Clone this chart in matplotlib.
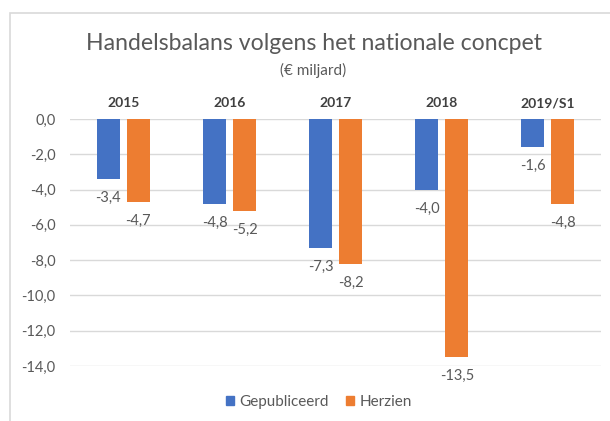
import matplotlib
matplotlib.use('Agg')
import matplotlib.pyplot as plt
import numpy as np
from matplotlib.patches import Rectangle, Patch

plt.rcParams['font.family'] = ['Lato', 'DejaVu Sans']

categories = ['2015', '2016', '2017', '2018', '2019/S1']
gepubliceerd = [-3.4, -4.8, -7.3, -4.0, -1.6]
herzien = [-4.7, -5.2, -8.2, -13.5, -4.8]
yticks = [0, -2, -4, -6, -8, -10, -12, -14]

BLUE = '#4472C4'
ORANGE = '#ED7D31'
GRID = '#D9D9D9'
TXT = '#595959'

W, H = 610, 421
fig = plt.figure(figsize=(W / 100, H / 100), dpi=100)
fig.patch.set_facecolor('white')

# chart border (runs off right/bottom edge like the screenshot)
fig.patches.append(Rectangle((10 / W, -0.05), 1.0, 1 - 13 / H + 0.05,
                             transform=fig.transFigure, fill=False,
                             edgecolor=GRID, linewidth=1.2))

ax = fig.add_axes([70.3 / W, (H - 366) / H, (601 - 70.3) / W, (366 - 119) / H])
ax.set_xlim(-0.5, len(categories) - 0.5)
ax.set_ylim(-14, 0)

x = np.arange(len(categories))
bw = 0.217
off = 0.1415
b1 = ax.bar(x - off, gepubliceerd, bw, color=BLUE, zorder=3)
b2 = ax.bar(x + off, herzien, bw, color=ORANGE, zorder=3)

# value labels just below each bar end
for bars, vals in ((b1, gepubliceerd), (b2, herzien)):
    for rect, v in zip(bars, vals):
        ax.annotate(f'{v:.1f}'.replace('.', ','),
                    (rect.get_x() + rect.get_width() / 2, v),
                    xytext=(0, -19), textcoords='offset pixels',
                    ha='center', va='center', fontsize=10.5, color=TXT,
                    annotation_clip=False)

for y in yticks:
    ax.axhline(y, color=GRID, linewidth=1, zorder=1)
ax.set_yticks(yticks)
ax.set_yticklabels([f'{y:.1f}'.replace('.', ',') for y in yticks],
                   color=TXT, fontsize=10.5)
ax.tick_params(axis='y', length=0, pad=10.5)
ax.set_xticks([])
for s in ax.spines.values():
    s.set_visible(False)

# category labels sit above the zero line
for xi, c in zip(x, categories):
    ax.annotate(c, (xi, 0), xytext=(0, 16), textcoords='offset pixels',
                ha='center', va='center', fontsize=10, fontweight='bold',
                color='#404040', annotation_clip=False)

fig.text(314 / W, 1 - 44 / H, 'Handelsbalans volgens het nationale concpet',
         ha='center', va='center', fontsize=16.6, color=TXT)
fig.text(313 / W, 1 - 70 / H, '(€ miljard)', ha='center', va='center',
         fontsize=11, color=TXT)

handles = [Patch(color=BLUE, label='Gepubliceerd'),
           Patch(color=ORANGE, label='Herzien')]
fig.legend(handles=handles, loc='center', bbox_to_anchor=(319 / W, 1 - 401.7 / H),
           ncol=2, frameon=False, fontsize=11, handlelength=0.55,
           handleheight=0.55, handletextpad=0.35, columnspacing=1.1,
           labelcolor=TXT)

fig.savefig('out.png', dpi=100, facecolor='white')
